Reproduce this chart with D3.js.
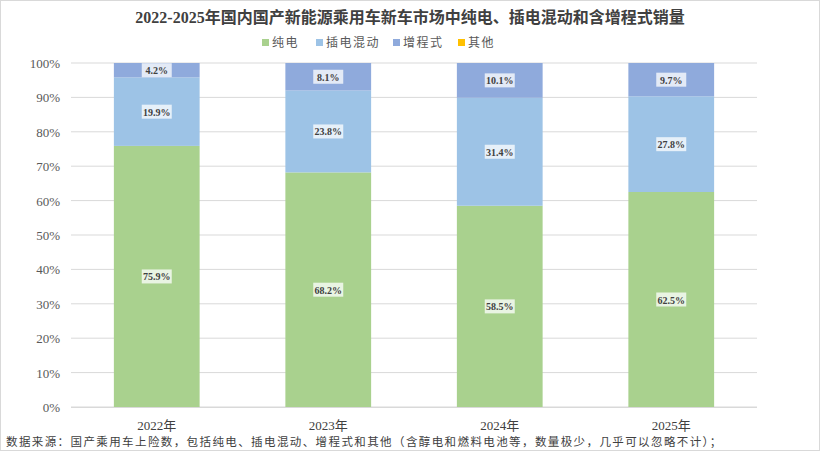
<!DOCTYPE html>
<html><head><meta charset="utf-8">
<script src="https://cdn.jsdelivr.net/npm/d3@7"></script>
<style>body{margin:0;background:#fff}svg{display:block}</style>
</head><body><div id="c"></div>
<script>
const years = ['2022年', '2023年', '2024年', '2025年'];
const seriesNames = ['纯电', '插电混动', '增程式', '其他'];
const bev = [75.9, 68.2, 58.5, 62.5];
const phev = [19.9, 23.8, 31.4, 27.8];
const erev = [4.2, 8.1, 10.1, 9.7];
const other = [0, 0, 0, 0];
const yTicks = [0, 10, 20, 30, 40, 50, 60, 70, 80, 90, 100];
const colors = ['#a9d18e', '#9dc3e6', '#8faadc', '#ffc000'];

const W = 820, H = 451;
const serif = '"Liberation Serif","Noto Sans CJK SC",serif';
const svg = d3.select('#c').append('svg').attr('width', W).attr('height', H);
svg.append('rect').attr('x', 0.5).attr('y', 0.5).attr('width', W - 1).attr('height', H - 1)
    .attr('fill', '#fff').attr('stroke', '#d9d9d9');

const x = d3.scaleBand().domain(years).range([71, 757]).paddingInner(0.5).paddingOuter(0.25);
const y = d3.scaleLinear().domain([0, 100]).range([407, 63]);

svg.append('text').attr('x', 410).attr('y', 23).attr('text-anchor', 'middle')
    .attr('font-family', serif).attr('font-weight', 'bold').attr('font-size', 16).attr('fill', '#404040')
    .text('2022-2025年国内国产新能源乘用车新车市场中纯电、插电混动和含增程式销量');

// legend
const legX = [262, 316, 393, 458];
seriesNames.forEach((n, i) => {
  svg.append('rect').attr('x', legX[i]).attr('y', 39).attr('width', 7).attr('height', 7).attr('fill', colors[i]);
  svg.append('text').attr('x', legX[i] + 10).attr('y', 47).attr('font-family', serif)
      .attr('font-size', 12).attr('letter-spacing', 1.5).attr('fill', '#595959').text(n);
});

// grid
svg.append('g').selectAll('line').data(yTicks).join('line')
    .attr('x1', 71).attr('x2', 757).attr('y1', d => y(d)).attr('y2', d => y(d))
    .attr('stroke', '#d9d9d9');
svg.append('g').selectAll('text').data(yTicks).join('text')
    .attr('x', 60).attr('y', d => y(d) + 5).attr('text-anchor', 'end')
    .attr('font-family', serif).attr('font-size', 13).attr('fill', '#595959').text(d => d + '%');

const table = years.map((yr, i) => ({yr, 纯电: bev[i], 插电混动: phev[i], 增程式: erev[i], 其他: other[i]}));
const stack = d3.stack().keys(seriesNames)(table);
stack.forEach((s, si) => {
  const g = svg.append('g');
  g.selectAll('rect').data(s).join('rect')
      .attr('x', d => x(d.data.yr)).attr('width', x.bandwidth())
      .attr('y', d => y(Math.min(100, d[1]))).attr('height', d => y(d[0]) - y(Math.min(100, d[1])))
      .attr('fill', colors[si]);
  if (si < 3) {
    const lab = g.selectAll('g.l').data(s).join('g')
        .attr('transform', d => `translate(${x(d.data.yr) + x.bandwidth() / 2},${y((d[0] + Math.min(100, d[1])) / 2)})`);
    lab.append('rect').attr('x', -15).attr('y', -7).attr('width', 30).attr('height', 14)
        .attr('fill', '#fff').attr('fill-opacity', 0.75);
    lab.append('text').attr('text-anchor', 'middle').attr('y', 4).attr('font-family', serif)
        .attr('font-size', 10).attr('font-weight', 'bold').attr('fill', '#404040')
        .text(d => (d[1] - d[0]).toFixed(1) + '%');
  }
});

svg.append('line').attr('x1', 71).attr('x2', 757).attr('y1', 407.5).attr('y2', 407.5).attr('stroke', '#d9d9d9');

svg.append('g').selectAll('text').data(years).join('text')
    .attr('x', d => x(d) + x.bandwidth() / 2).attr('y', 430).attr('text-anchor', 'middle')
    .attr('font-family', serif).attr('font-size', 13).attr('fill', '#404040').text(d => d);

svg.append('text').attr('x', 6).attr('y', 446).attr('font-family', serif).attr('font-size', 11.5)
    .attr('letter-spacing', 1.4).attr('fill', '#404040')
    .text('数据来源：国产乘用车上险数，包括纯电、插电混动、增程式和其他（含醇电和燃料电池等，数量极少，几乎可以忽略不计）；');
</script></body></html>
